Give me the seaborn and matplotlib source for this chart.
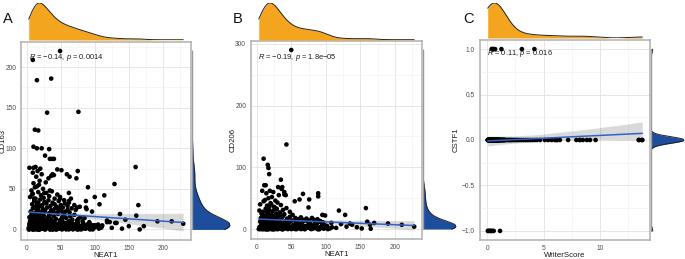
import numpy as np
import pandas as pd
import matplotlib
matplotlib.use("Agg")
import matplotlib.pyplot as plt
import seaborn as sns
from matplotlib.ticker import MultipleLocator

sns.set_style("white")
plt.rcParams["font.family"] = ["Liberation Sans", "DejaVu Sans"]
plt.rcParams["mathtext.fontset"] = "custom"
plt.rcParams["mathtext.it"] = "Liberation Sans:italic"
plt.rcParams["mathtext.rm"] = "Liberation Sans"

# ---------------- data ----------------
# panel A : NEAT1 vs CD163
neat1_a = [
    3, 4, 5, 6, 7, 8, 9, 10, 11, 12, 13, 14, 15, 16, 17, 18, 19, 20, 21, 22,
    5, 8, 11, 14, 17, 20, 23, 26, 29, 32, 35, 38, 41, 44, 47, 50, 53, 56, 59, 62,
    65, 68, 71, 74, 77, 80, 83, 86, 89, 92, 95, 98, 4, 7, 10, 13, 16, 19, 22, 25,
    28, 31, 34, 37, 40, 43, 46, 49, 52, 55, 58, 61, 64, 67, 70, 73, 76, 79, 82, 85,
    6, 9, 12, 15, 18, 21, 24, 27, 30, 33, 36, 39, 42, 45, 48, 51, 54, 57, 60, 63,
    8, 11, 14, 17, 20, 23, 26, 29, 32, 35, 38, 41, 44, 47, 50, 53, 56, 60, 66, 72,
    5, 9, 13, 17, 21, 25, 29, 33, 37, 41, 45, 49, 55, 62, 70, 78, 88, 96, 12, 18,
    24, 7, 15, 26, 34, 10, 19, 28, 14, 22, 32, 9, 16, 36, 40, 45, 3, 6, 8, 11,
    14, 17, 19, 23, 27, 31, 35, 39, 43, 48, 52, 57, 63, 68, 74, 81, 87, 93, 99, 102,
    105, 110, 118, 125, 132, 140, 150, 145, 4, 6, 9, 12, 15, 18, 20, 24, 27, 30, 33, 36,
    5, 7, 9, 11, 13, 15, 17, 19, 21, 23, 25, 27, 6, 8, 10, 12, 14, 16, 18, 20,
    22, 24, 26, 28, 14, 16, 18, 12, 10, 20, 15, 17, 19, 13, 11, 21, 9, 25, 23, 8,
    4, 6, 8, 10, 12, 14, 16, 18, 20, 22, 24, 26, 28, 30, 32, 34, 36, 38, 40, 42,
    44, 46, 48, 50, 54, 58, 62, 66, 70, 75, 80, 85, 90, 95, 100, 9, 11, 13, 15, 17,
    5, 7, 9, 11, 13, 15, 17, 19, 21, 23, 25, 27, 29, 31, 33, 35, 37, 39, 41, 43,
    6, 8, 10, 12, 14, 16, 18, 20, 22, 24, 26, 28, 30, 32, 34, 36, 38, 40, 44, 48,
    10, 12, 14, 16, 18, 20, 22, 24, 26, 28, 30, 32, 35, 38, 42, 46, 52, 58, 64, 70,
    52, 55, 58, 61, 64, 67, 70, 73, 76, 79, 82, 85, 88, 91, 94, 97, 100, 103, 106, 109,
    8, 10, 12, 14, 16, 18, 20, 22, 24, 26, 30, 34, 38, 44, 50, 56, 62, 68, 78, 88,
    49, 9, 15, 36, 30, 76, 12, 17, 10, 15, 22, 33, 27, 34, 40, 37, 4, 10, 13, 20,
    51, 75, 73, 59, 63, 38, 90, 129, 160, 114, 100, 87, 164, 137, 161, 172, 166, 192, 213, 230,
    130, 111, 122, 118, 87, 107, 74, 62, 62, 49, 65,
]
cd163 = [
    2, 5, 1, 8, 3, 6, 0, 4, 9, 2, 7, 1, 5, 3, 8, 0, 6, 2, 4, 9,
    10, 4, 12, 6, 1, 14, 3, 11, 7, 2, 13, 5, 9, 0, 6, 12, 3, 8, 1, 10,
    4, 7, 2, 11, 5, 0, 8, 3, 6, 9, 2, 5, 15, 18, 13, 16, 11, 19, 14, 17,
    12, 15, 18, 10, 16, 13, 19, 11, 15, 17, 14, 9, 16, 12, 18, 7, 13, 15, 10, 14,
    22, 26, 20, 24, 28, 21, 25, 23, 27, 20, 24, 22, 26, 21, 25, 23, 20, 22, 24, 21,
    31, 35, 29, 33, 37, 30, 34, 32, 36, 29, 33, 31, 28, 35, 30, 27, 32, 29, 26, 24,
    40, 44, 38, 46, 42, 39, 45, 41, 47, 38, 43, 40, 36, 33, 30, 28, 25, 22, 52, 55,
    50, 48, 53, 45, 48, 57, 60, 58, 65, 68, 63, 70, 72, 66, 67, 74, 0, 1, 3, 0,
    2, 0, 1, 3, 0, 2, 1, 0, 3, 1, 0, 2, 1, 3, 0, 2, 1, 0, 2, 4,
    6, 3, 9, 2, 8, 1, 4, 12, 7, 12, 3, 9, 6, 14, 1, 8, 5, 11, 4, 7,
    3, 1, 6, 2, 9, 4, 0, 7, 3, 5, 1, 8, 11, 16, 5, 2, 7, 13, 3, 9,
    6, 2, 10, 4, 21, 18, 1, 27, 19, 12, 33, 24, 15, 6, 38, 29, 17, 3, 20, 43,
    0, 4, 2, 7, 1, 5, 3, 0, 6, 2, 8, 4, 1, 6, 3, 0, 5, 2, 7, 4,
    1, 6, 3, 8, 2, 5, 0, 7, 3, 9, 1, 4, 6, 2, 5, 10, 14, 8, 12, 20,
    1, 3, 0, 2, 4, 1, 3, 0, 2, 5, 1, 0, 3, 2, 4, 0, 1, 3, 2, 0,
    8, 6, 10, 7, 9, 5, 11, 8, 6, 10, 7, 9, 5, 8, 6, 11, 7, 9, 6, 8,
    12, 2, 4, 14, 0, 3, 1, 13, 5, 2, 12, 4, 1, 10, 3, 5, 11, 0, 6, 2,
    4, 2, 5, 1, 3, 6, 2, 4, 0, 3, 5, 1, 4, 2, 6, 0, 3, 5, 1, 2,
    1, 5, 3, 0, 6, 2, 4, 1, 5, 3, 2, 6, 0, 4, 1, 3, 5, 0, 2, 4,
    220, 209, 184, 186, 144, 145, 123, 122, 102, 100, 100, 99, 91, 87, 87, 87, 76, 76, 77, 75,
    73, 72, 63, 68, 65, 68, 52, 56, 77, 42, 40, 35, 30, 19, 17, 4, 0, 10, 10, 7,
    8, 5, 9, 11, 27, 31, 27, 45, 35, 38, 38,
]

# panel B : NEAT1 vs CD206
neat1_b = [
    3, 4, 5, 6, 7, 8, 9, 10, 11, 12, 13, 14, 15, 16, 17, 18, 19, 20, 21, 22,
    5, 7, 9, 11, 13, 15, 17, 19, 21, 23, 25, 27, 29, 31, 33, 35, 37, 39, 41, 43,
    45, 47, 49, 51, 53, 55, 57, 59, 61, 63, 65, 67, 69, 71, 73, 75, 77, 79, 81, 83,
    85, 87, 89, 91, 93, 95, 97, 99, 6, 8, 10, 12, 14, 16, 18, 20, 22, 24, 26, 28,
    30, 32, 34, 36, 38, 40, 44, 48, 52, 56, 60, 64, 68, 72, 76, 80, 84, 88, 92, 96,
    4, 9, 13, 18, 23, 28, 33, 38, 43, 48, 5, 10, 15, 20, 25, 30, 35, 12, 17, 22,
    27, 32, 14, 19, 24, 8, 11, 36, 40, 21, 26, 7, 15, 18, 29, 102, 108, 115, 122, 130,
    138, 145, 5, 8, 12, 16, 20, 24, 28, 7, 11, 15, 19, 23, 27, 9, 13, 17, 21, 25,
    6, 10, 14, 18, 22, 26, 8, 12, 16, 20, 24, 28, 11, 15, 19, 23, 13, 17, 21, 9,
    4, 6, 8, 10, 12, 14, 16, 18, 20, 22, 24, 26, 28, 30, 32, 34, 36, 38, 40, 42,
    44, 46, 48, 50, 54, 58, 62, 66, 70, 75, 80, 85, 90, 95, 100, 9, 11, 13, 15, 17,
    5, 7, 9, 11, 13, 15, 17, 19, 21, 23, 25, 27, 29, 31, 33, 35, 37, 39, 41, 43,
    6, 8, 10, 12, 14, 16, 18, 20, 22, 24, 26, 28, 30, 32, 34, 36, 38, 40, 44, 48,
    10, 12, 14, 16, 18, 20, 22, 24, 26, 28, 30, 32, 35, 38, 42, 46, 52, 58, 64, 70,
    52, 55, 58, 61, 64, 67, 70, 73, 76, 79, 82, 85, 88, 91, 94, 97, 100, 103, 106, 109,
    8, 10, 12, 14, 16, 18, 20, 22, 24, 26, 30, 34, 38, 44, 50, 56, 62, 68, 78, 88,
    50, 43, 10, 16, 17, 18, 35, 31, 37, 40, 42, 13, 89, 89, 67, 62, 55, 75, 76, 95,
    99, 119, 128, 158, 160, 164, 170, 190, 210, 228, 152, 165, 135,
]
cd206 = [
    0, 3, 1, 5, 2, 8, 0, 4, 6, 1, 9, 3, 0, 7, 2, 5, 10, 1, 4, 0,
    12, 2, 15, 6, 0, 11, 4, 14, 1, 8, 16, 3, 10, 0, 13, 5, 9, 2, 12, 6,
    0, 10, 3, 14, 7, 1, 11, 4, 16, 2, 8, 12, 0, 5, 13, 3, 9, 1, 6, 15,
    2, 8, 0, 12, 4, 10, 1, 6, 18, 20, 17, 22, 19, 24, 21, 17, 23, 20, 18, 25,
    19, 22, 26, 18, 21, 24, 17, 20, 23, 18, 16, 19, 15, 17, 14, 18, 12, 16, 13, 11,
    30, 28, 33, 35, 29, 32, 27, 31, 34, 28, 40, 45, 38, 42, 36, 43, 39, 47, 50, 52,
    46, 55, 58, 62, 60, 62, 71, 65, 56, 40, 35, 25, 28, 30, 33, 5, 10, 2, 8, 4,
    7, 3, 0, 1, 3, 0, 2, 0, 1, 6, 4, 2, 8, 5, 3, 12, 9, 7, 11, 14,
    1, 4, 2, 6, 3, 0, 9, 5, 12, 7, 10, 15, 8, 3, 14, 11, 0, 19, 2, 6,
    2, 5, 1, 7, 3, 9, 0, 6, 2, 8, 4, 11, 1, 7, 3, 10, 0, 5, 2, 13,
    8, 3, 12, 0, 6, 2, 9, 4, 1, 7, 3, 5, 0, 8, 2, 15, 21, 18, 13, 26,
    2, 0, 1, 3, 0, 4, 1, 2, 0, 3, 1, 5, 0, 2, 4, 1, 0, 3, 2, 1,
    5, 7, 4, 6, 8, 3, 6, 9, 5, 7, 4, 6, 8, 3, 7, 5, 9, 4, 6, 3,
    1, 10, 3, 0, 11, 2, 8, 0, 12, 4, 1, 9, 2, 0, 7, 3, 1, 5, 0, 4,
    1, 3, 0, 2, 4, 1, 0, 3, 2, 0, 1, 4, 2, 0, 3, 1, 2, 0, 1, 3,
    3, 0, 2, 4, 1, 0, 3, 2, 0, 1, 4, 2, 0, 3, 1, 0, 2, 4, 1, 0,
    290, 137, 114, 104, 99, 89, 80, 68, 68, 60, 55, 71, 58, 53, 57, 48, 45, 35, 48, 23,
    22, 30, 23, 34, 12, 7, 10, 9, 7, 4, 1, 0.5, 9,
]

# panel C : WriterScore vs CSTF1 (CSTF1 takes -1 / 0 / 1)
writer_zero = [
    0.05, 0.08, 0.1, 0.12, 0.15, 0.18, 0.2, 0.22, 0.25, 0.28, 0.3, 0.32, 0.35, 0.38, 0.4, 0.42, 0.45, 0.48, 0.5, 0.52,
    0.55, 0.58, 0.6, 0.62, 0.65, 0.68, 0.7, 0.72, 0.75, 0.78, 0.8, 0.82, 0.85, 0.88, 0.9, 0.92, 0.95, 0.98, 1.0, 1.05,
    0.06, 0.09, 0.11, 0.14, 0.16, 0.19, 0.21, 0.24, 0.26, 0.29, 0.31, 0.34, 0.36, 0.39, 0.41, 0.44, 0.46, 0.49, 0.51, 0.54,
    0.56, 0.59, 0.61, 0.64, 0.66, 0.69, 0.71, 0.74, 0.76, 0.79, 0.81, 0.84, 0.86, 0.89, 0.91, 0.94, 0.96, 0.99, 1.02, 1.08,
    1.1, 1.15, 1.2, 1.25, 1.3, 1.35, 1.4, 1.45, 1.5, 1.55, 1.6, 1.7, 1.8, 1.9, 2.0, 2.1, 2.2, 2.35, 2.5, 2.65,
    0.33, 0.43, 0.53, 0.63, 0.73, 0.37, 0.47, 0.57, 0.67, 0.27, 2.8, 3.0, 3.2, 3.4, 3.6, 3.8, 4.0, 4.2, 4.4, 1.12,
    0.07, 0.13, 0.17, 0.23, 0.28, 0.34, 0.4, 0.46, 0.52, 0.58, 0.64, 0.7, 0.77, 0.83, 0.9, 0.97, 1.18, 1.28, 1.38, 1.48,
    4.68, 5.11, 5.4, 5.7, 5.99, 6.14, 6.43, 7.16, 7.89, 8.18, 8.47, 8.82, 9.59, 13.4, 13.7, 13.45, 13.72, 8.2, 9.1, 6.2,
]
writer_pos = [0.4, 0.45, 0.5, 0.55, 0.7, 1.26, 3.07, 4.18]
writer_neg = [0.06, 0.12, 0.23, 0.3, 0.38, 0.45, 0.58, 1.14]

a_ticks = [0, 50, 100, 150, 200]
b_yticks = [0, 100, 200, 300]
c_xticks = [0, 5, 10]
c_yticks = [-1.0, -0.5, 0.0, 0.5, 1.0]
c_yticklabels = ["\u22121.0", "\u22120.5", "0.0", "0.5", "1.0"]

labels = ["A", "B", "C"]
stats = [
    "$R$ = \u22120.14, $p$ = 0.0014",
    "$R$ = \u22120.19, $p$ = 1.8e\u221205",
    "$R$ = 0.11, $p$ = 0.016",
]

df_a = pd.DataFrame({"NEAT1": neat1_a, "CD163": cd163})
df_b = pd.DataFrame({"NEAT1": neat1_b, "CD206": cd206})
df_c = pd.concat([
    pd.DataFrame({"WriterScore": writer_zero, "CSTF1": 0.0}),
    pd.DataFrame({"WriterScore": writer_pos, "CSTF1": 1.0}),
    pd.DataFrame({"WriterScore": writer_neg, "CSTF1": -1.0}),
], ignore_index=True)

# ---------------- figure ----------------
orange = "#F4A51F"
navy = "#1D4E9E"
line_blue = "#3262C6"

W, H = 685, 259
fig = plt.figure(figsize=(W / 100, H / 100), dpi=100)


def px_axes(l, t, r, b, **kw):
    return fig.add_axes([l / W, 1 - b / H, (r - l) / W, (b - t) / H], **kw)


def panel(df, xcol, ycol, main, top, right, letter_x, letter, stat, stat_xy,
          xmin_step, ymin_step, ylab_x, bw_y=1.0):
    ax = px_axes(*main)
    sns.scatterplot(data=df, x=xcol, y=ycol, color="black", s=11,
                    edgecolor="none", ax=ax, zorder=3)
    # grey confidence band, then the blue fit line
    sns.regplot(data=df, x=xcol, y=ycol, scatter=False, color="black",
                line_kws={"lw": 0}, ax=ax, seed=1)
    sns.regplot(data=df, x=xcol, y=ycol, scatter=False, ci=None,
                color=line_blue, line_kws={"lw": 1.1, "zorder": 5}, ax=ax)

    ax.xaxis.set_minor_locator(MultipleLocator(xmin_step))
    ax.yaxis.set_minor_locator(MultipleLocator(ymin_step))
    ax.grid(True, which="major", color="#E3E3E3", lw=0.6)
    ax.grid(True, which="minor", color="#F0F0F0", lw=0.4)
    ax.set_axisbelow(True)
    for sp in ax.spines.values():
        sp.set_color("#B0B0B0")
        sp.set_linewidth(1.1)
    ax.tick_params(axis="both", which="major", length=2.5, width=0.6,
                   color="#7F7F7F", labelsize=4.8, labelcolor="#4D4D4D", pad=1.0)
    ax.tick_params(axis="both", which="minor", length=0)
    ax.set_xlabel(xcol, fontsize=5.6, color="#1A1A1A", labelpad=0)
    ax.set_ylabel(ycol, fontsize=5.6, color="#1A1A1A")
    ax.yaxis.set_label_coords(ylab_x, 0.5)
    ax.text(stat_xy[0], stat_xy[1], stat, transform=ax.transAxes,
            fontsize=5.4, color="#1A1A1A", va="center", ha="left", zorder=6)

    # top marginal density
    axt = px_axes(*top, sharex=ax)
    axt.margins(y=0)
    sns.kdeplot(data=df, x=xcol, fill=True, cut=0, color=orange, alpha=1,
                linewidth=0, ax=axt)
    sns.kdeplot(data=df, x=xcol, cut=0, color="#222222", linewidth=0.7, ax=axt)
    axt.set_ylim(bottom=0)
    axt.axis("off")

    # right marginal density
    axr = px_axes(*right, sharey=ax)
    axr.margins(x=0)
    sns.kdeplot(data=df, y=ycol, fill=True, cut=0, color=navy, alpha=1,
                linewidth=0, bw_adjust=bw_y, ax=axr)
    sns.kdeplot(data=df, y=ycol, cut=0, color="#222222", linewidth=0.7,
                bw_adjust=bw_y, ax=axr)
    axr.plot([0, 0], [df[ycol].min(), df[ycol].max()], color="#9A9A9A", lw=1.0)
    axr.set_xlim(left=0)
    axr.axis("off")

    fig.text(letter_x / W, 1 - 19 / H, letter, fontsize=10.5, va="center",
             ha="left", color="#111111")
    return ax


ax_a = panel(df_a, "NEAT1", "CD163", (21, 42, 191, 240), (21, 3, 191, 40),
             (192, 42, 230, 240), 3, labels[0], stats[0], (0.047, 0.924), 25, 25,
             -0.084)
ax_a.set_xticks(a_ticks)
ax_a.set_yticks(a_ticks)

ax_b = panel(df_b, "NEAT1", "CD206", (251, 41, 422, 239), (251, 3, 422, 40),
             (423, 41, 456, 239), 233, labels[1], stats[1], (0.039, 0.916), 25, 50,
             -0.084)
ax_b.set_xticks(a_ticks)
ax_b.set_yticks(b_yticks)

ax_c = panel(df_c, "WriterScore", "CSTF1", (480, 40, 650, 240), (480, 3, 650, 38),
             (651, 40, 684, 240), 463, labels[2], stats[2], (0.043, 0.933), 2.5, 0.25,
             -0.118, bw_y=0.33)
ax_c.set_xticks(c_xticks)
ax_c.set_yticks(c_yticks)
ax_c.set_yticklabels(c_yticklabels)

fig.savefig("out.png", dpi=100)
